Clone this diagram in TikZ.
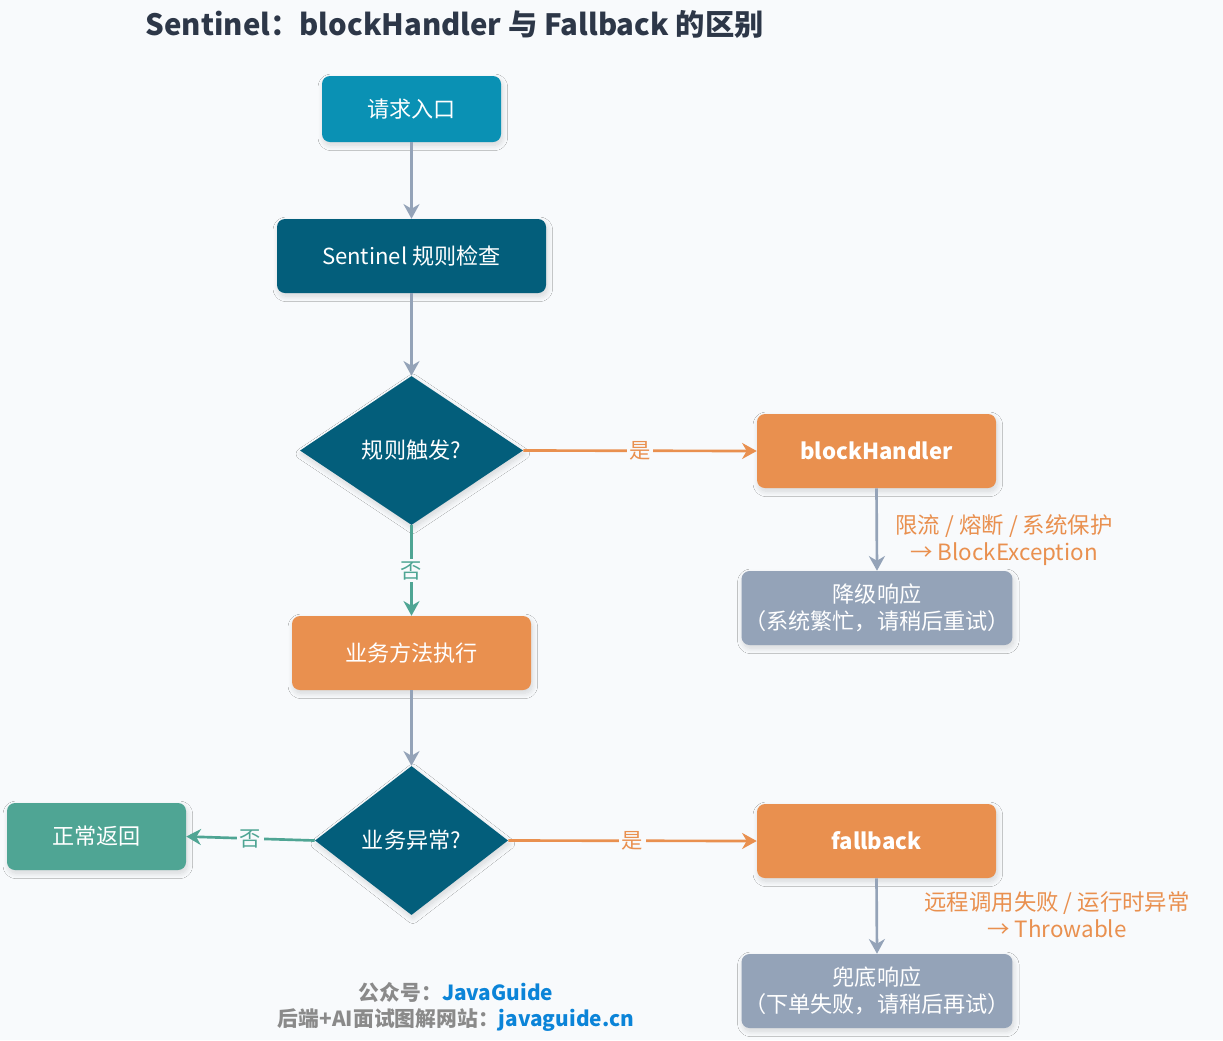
\documentclass[tikz,border=0pt]{standalone}
\usepackage{fontspec}
\setmainfont{Noto Sans CJK SC}
\usetikzlibrary{shapes.geometric,arrows.meta,shadows.blur}
\definecolor{bg}{HTML}{F8FAFC}
\definecolor{cyanbox}{HTML}{0A91B4}
\definecolor{darkbox}{HTML}{035E7B}
\definecolor{orangebox}{HTML}{E9904F}
\definecolor{slatebox}{HTML}{94A3B8}
\definecolor{greenbox}{HTML}{4FA594}
\definecolor{titlecol}{HTML}{2D3748}
\definecolor{footgray}{HTML}{8A8A8A}
\definecolor{footblue}{HTML}{0B84D8}
\tikzset{
  shad/.style={blur shadow={shadow blur steps=10, shadow blur radius=4pt, shadow xshift=1pt, shadow yshift=-2.5pt, shadow opacity=14}},
  box/.style={rectangle, rounded corners=6pt, text=white, align=center, inner sep=2pt, shad,
    font=\fontsize{16.6}{20}\selectfont},
  dia/.style={diamond, fill=darkbox, text=white, inner sep=0pt, shad,
    font=\fontsize{16.6}{20}\selectfont},
  garrow/.style={draw=slatebox, line width=2pt, -{Stealth[length=11pt,width=12pt,inset=3.5pt]}},
  oarrow/.style={draw=orangebox, line width=2pt, -{Stealth[length=11pt,width=12pt,inset=3.5pt]}},
  tarrow/.style={draw=greenbox, line width=2pt, -{Stealth[length=11pt,width=12pt,inset=3.5pt]}},
  elab/.style={fill=bg, inner sep=2pt, font=\fontsize{16}{18}\selectfont},
  olab/.style={text=orangebox, align=center, font=\fontsize{16.8}{20}\selectfont},
}
\begin{document}
\begin{tikzpicture}[x=0.75pt,y=-0.75pt]
\fill[bg] (0,0) rectangle (1223,1040);
\useasboundingbox (0,0) rectangle (1223,1040);

\node[anchor=west, text=titlecol, font=\fontsize{22}{26}\selectfont\bfseries] (title) at (141,24) {Sentinel：blockHandler 与 Fallback 的区别};

\node[box, fill=cyanbox, minimum width=134.25pt, minimum height=49.5pt] (entry) at (411.5,109) {请求入口};
\node[box, fill=darkbox, minimum width=201.75pt, minimum height=55.5pt] (check) at (411.5,256) {Sentinel 规则检查};
\node[dia, minimum width=167.25pt, minimum height=111.75pt] (d1) at (411.5,450.5) {规则触发?};
\node[box, fill=orangebox, minimum width=179.25pt, minimum height=55.5pt, font=\fontsize{16.6}{20}\selectfont\bfseries] (bh) at (876.5,451) {blockHandler};
\node[box, fill=slatebox, minimum width=202.5pt, minimum height=55.5pt] (degrade) at (877,608) {降级响应\\（系统繁忙，请稍后重试）};
\node[box, fill=orangebox, minimum width=179.25pt, minimum height=55.5pt] (biz) at (411.5,653) {业务方法执行};
\node[dia, minimum width=144.75pt, minimum height=111.75pt] (d2) at (411.5,840.5) {业务异常?};
\node[box, fill=greenbox, minimum width=134.25pt, minimum height=50.25pt] (ok) at (96.5,836.5) {正常返回};
\node[box, fill=orangebox, minimum width=179.25pt, minimum height=55.5pt, font=\fontsize{16.6}{20}\selectfont\bfseries] (fb) at (876.5,841) {fallback};
\node[box, fill=slatebox, minimum width=202.5pt, minimum height=55.5pt] (bottom) at (877,991) {兜底响应\\（下单失败，请稍后再试）};

\draw[garrow] (entry.south) -- (check.north);
\draw[garrow] (check.south) -- (d1.north);
\draw[oarrow] (d1.east) -- node[elab, text=orangebox] (l1) {是} (bh.west);
\draw[tarrow] (d1.south) -- node[elab, text=greenbox] (l2) {否} (biz.north);
\draw[garrow] (bh.south) -- (degrade.north);
\draw[garrow] (biz.south) -- (d2.north);
\draw[oarrow] (d2.east) -- node[elab, text=orangebox] (l3) {是} (fb.west);
\draw[tarrow] (d2.west) -- node[elab, text=greenbox] (l4) {否} (ok.east);
\draw[garrow] (fb.south) -- (bottom.north);

\node[olab] (n1) at (1004,540) {限流 / 熔断 / 系统保护\\→ BlockException};
\node[olab] (n2) at (1057,915) {远程调用失败 / 运行时异常\\→ Throwable};

\node[align=center, font=\fontsize{15.6}{20}\selectfont\bfseries] (foot) at (456,1007)
  {{\color{footgray}公众号：}{\color{footblue}JavaGuide}\\{\color{footgray}后端+AI面试图解网站：}{\color{footblue}javaguide.cn}};
\end{tikzpicture}
\end{document}
